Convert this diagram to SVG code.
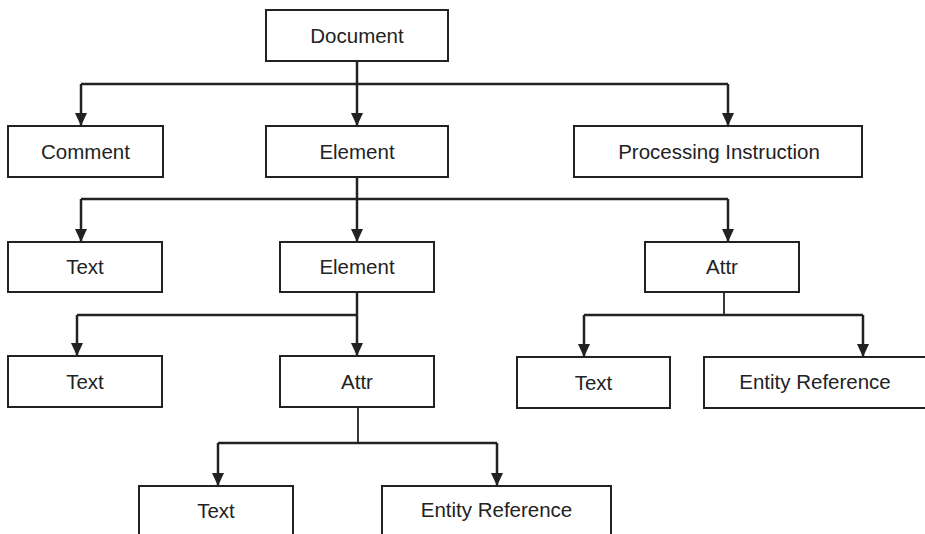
<svg xmlns="http://www.w3.org/2000/svg" width="925" height="534" viewBox="0 0 925 534">
  <style>
    .box { fill: #ffffff; stroke: #222222; stroke-width: 2; }
    .lbl { font-family: "Liberation Sans", Arial, sans-serif; font-size: 20.5px; fill: #222222; text-anchor: middle; }
    .wire { fill: none; stroke: #222222; stroke-width: 2.5; }
    .thin { stroke-width: 1.8; }
    .tip { fill: #222222; }
  </style>
  <defs>
    <marker id="arrow" markerUnits="userSpaceOnUse" markerWidth="14" markerHeight="12" refX="13" refY="6" orient="auto">
      <path class="tip" d="M0,0 L13,6 L0,12 Z"/>
    </marker>
  </defs>
  <rect width="925" height="534" fill="#ffffff"/>

  <!-- connectors -->
  <g id="connectors">
    <!-- Document -> children -->
    <path class="wire" d="M357,61 V126" marker-end="url(#arrow)"/>
    <path class="wire" d="M81,84 H728"/>
    <path class="wire" d="M81,84 V126" marker-end="url(#arrow)"/>
    <path class="wire" d="M728,84 V126" marker-end="url(#arrow)"/>
    <!-- Element -> children -->
    <path class="wire" d="M357,177 V242" marker-end="url(#arrow)"/>
    <path class="wire" d="M81,199 H728"/>
    <path class="wire" d="M81,199 V242" marker-end="url(#arrow)"/>
    <path class="wire" d="M728,199 V242" marker-end="url(#arrow)"/>
    <!-- inner Element -> children -->
    <path class="wire" d="M357,292 V356" marker-end="url(#arrow)"/>
    <path class="wire" d="M77,315 H357"/>
    <path class="wire" d="M77,315 V356" marker-end="url(#arrow)"/>
    <!-- right Attr -> children -->
    <path class="wire thin" d="M724,292 V315"/>
    <path class="wire" d="M584,315 H863"/>
    <path class="wire" d="M584,315 V357" marker-end="url(#arrow)"/>
    <path class="wire" d="M863,315 V357" marker-end="url(#arrow)"/>
    <!-- lower Attr -> children -->
    <path class="wire thin" d="M358,407 V443"/>
    <path class="wire" d="M218,443 H497"/>
    <path class="wire" d="M218,443 V486" marker-end="url(#arrow)"/>
    <path class="wire" d="M497,443 V486" marker-end="url(#arrow)"/>
  </g>

  <!-- nodes -->
  <g id="document">
    <rect class="box" x="266" y="10" width="182" height="51"/>
    <text class="lbl" x="357" y="43">Document</text>
  </g>
  <g id="comment">
    <rect class="box" x="8" y="126" width="155" height="51"/>
    <text class="lbl" x="85.5" y="159">Comment</text>
  </g>
  <g id="element">
    <rect class="box" x="266" y="126" width="182" height="51"/>
    <text class="lbl" x="357" y="159">Element</text>
  </g>
  <g id="processing-instruction">
    <rect class="box" x="574" y="126" width="288" height="51"/>
    <text class="lbl" x="719" y="159">Processing Instruction</text>
  </g>
  <g id="text-1">
    <rect class="box" x="8" y="242" width="154" height="50"/>
    <text class="lbl" x="85" y="274">Text</text>
  </g>
  <g id="element-2">
    <rect class="box" x="280" y="242" width="154" height="50"/>
    <text class="lbl" x="357" y="274">Element</text>
  </g>
  <g id="attr-1">
    <rect class="box" x="645" y="242" width="154" height="50"/>
    <text class="lbl" x="722" y="274">Attr</text>
  </g>
  <g id="text-2">
    <rect class="box" x="8" y="356" width="154" height="51"/>
    <text class="lbl" x="85" y="389">Text</text>
  </g>
  <g id="attr-2">
    <rect class="box" x="280" y="356" width="154" height="51"/>
    <text class="lbl" x="357" y="389">Attr</text>
  </g>
  <g id="text-3">
    <rect class="box" x="517" y="357" width="153" height="51"/>
    <text class="lbl" x="593.5" y="390">Text</text>
  </g>
  <g id="entity-reference-1">
    <rect class="box" x="704" y="357" width="240" height="51"/>
    <text class="lbl" x="815" y="389">Entity Reference</text>
  </g>
  <g id="text-4">
    <rect class="box" x="139" y="486" width="154" height="60"/>
    <text class="lbl" x="216" y="518">Text</text>
  </g>
  <g id="entity-reference-2">
    <rect class="box" x="382" y="486" width="229" height="60"/>
    <text class="lbl" x="496.5" y="517">Entity Reference</text>
  </g>
</svg>
